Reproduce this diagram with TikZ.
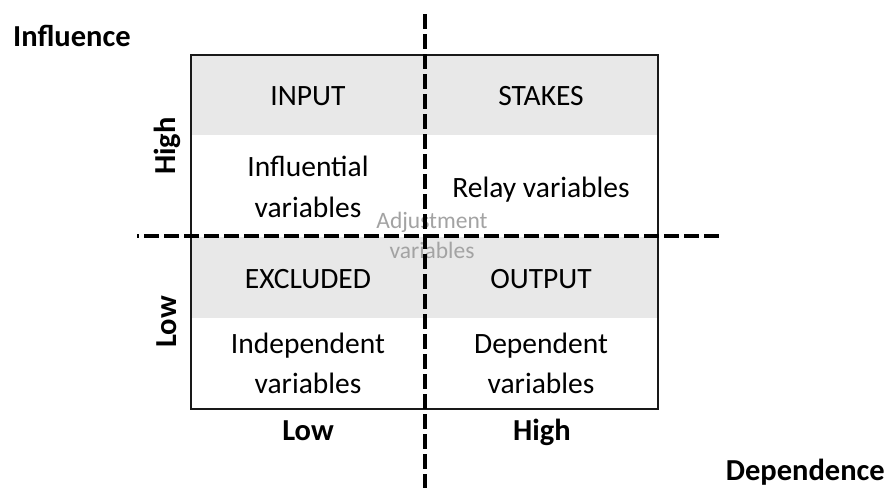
\documentclass[tikz,border=0pt]{standalone}
\usepackage{fontspec}
\setmainfont{Carlito}
\begin{document}
\begin{tikzpicture}[x=1pt,y=-1pt,
  cell/.style={anchor=base,font=\fontsize{29.5}{40}\selectfont,text=black,inner sep=0pt},
  axislabel/.style={anchor=base,font=\fontsize{30.5}{36}\selectfont\bfseries,text=black,inner sep=0pt},
  hint/.style={anchor=base,font=\fontsize{23.5}{30}\selectfont,text=hintgray,inner sep=0pt},
  axisline/.style={line width=3.6pt,dash pattern=on 15pt off 5pt,draw=black}]
\definecolor{bandgray}{HTML}{E8E8E8}
\definecolor{hintgray}{HTML}{A3A3A3}
\useasboundingbox[fill=white] (0,0) rectangle (888,488);

% header bands of the four quadrants
\fill[bandgray] (191,55) rectangle (658,135);
\fill[bandgray] (191,237) rectangle (658,318);

% outer frame
\draw[line width=1.8pt,draw=black!90] (191,55) rectangle (658,409);

% quadrant titles
\node[cell] (input)    at (308,105) {INPUT};
\node[cell] (stakes)   at (541,105) {STAKES};
\node[cell] (excluded) at (308,288) {EXCLUDED};
\node[cell] (output)   at (541,288) {OUTPUT};

% quadrant contents
\node[cell] (infl1) at (308,176) {Influential};
\node[cell] (infl2) at (308,217) {variables};
\node[cell] (relay) at (541,197) {Relay variables};
\node[cell] (indep1) at (308,353) {Independent};
\node[cell] (indep2) at (308,393) {variables};
\node[cell] (dep1) at (541,353) {Dependent};
\node[cell] (dep2) at (541,393) {variables};

% variables sitting on the crossing
\node[hint] (adj1) at (432,228) {Adjustment};
\node[hint] (adj2) at (432,258) {variables};

% axes through the centre
\coordinate (vtop) at (425,14);
\coordinate (vbot) at (425,488);
\coordinate (hleft) at (137,236);
\coordinate (hright) at (722,236);
\draw[axisline] (vtop) -- (vbot);
\draw[axisline,dash phase=13pt] (hleft) -- (hright);

% level labels
\node[axislabel,rotate=90,anchor=center] (yhigh) at (167,146) {High};
\node[axislabel,rotate=90,anchor=center] (ylow)  at (167,322) {Low};
\node[axislabel] (xlow)  at (308,440) {Low};
\node[axislabel] (xhigh) at (542,440) {High};

% axis names
\node[axislabel,anchor=base west] (influence) at (13,46) {Influence};
\node[axislabel,anchor=base east] (dependence) at (885,480) {Dependence};
\end{tikzpicture}
\end{document}
